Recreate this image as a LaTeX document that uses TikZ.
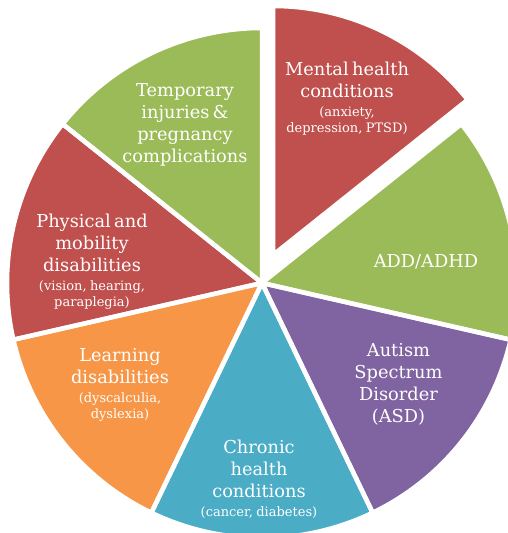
\documentclass[tikz,border=0pt]{standalone}
\usepackage{fontspec}
\setmainfont{DejaVu Serif}
\definecolor{pieRed}{HTML}{C0504D}
\definecolor{pieGreen}{HTML}{9BBB59}
\definecolor{piePurple}{HTML}{8064A2}
\definecolor{pieBlue}{HTML}{4BACC6}
\definecolor{pieOrange}{HTML}{F79646}
\newcommand\pieBig{\fontsize{17.8}{22}\selectfont}
\newcommand\pieSmall{\fontsize{13}{15.8}\selectfont}
\newcommand\pieGap{\par\vspace{3pt}}
\begin{document}
\begin{tikzpicture}[x=1pt,y=1pt,
  gap/.style={draw=white,line width=4.5pt,line join=round},
  pielabel/.style={text=white,align=center,text width=170pt,anchor=base,inner sep=0pt}]
\useasboundingbox (0,0) rectangle (507,533);
% centre of the pie and vertex of the pulled-out wedge
\coordinate (O) at (262,250);
\coordinate (M) at (273,278);
\def\R{255}
\def\Rm{249}
% seven equal wedges
\foreach \s/\e/\col in {-12.857/38.571/pieGreen, -64.286/-12.857/piePurple,
    -115.714/-64.286/pieBlue, -167.143/-115.714/pieOrange,
    141.429/192.857/pieRed, 90/141.429/pieGreen}
  \fill[\col] (O) -- ++(\s:\R) arc[start angle=\s,end angle=\e,radius=\R] -- cycle;
\fill[pieRed] (M) -- ++(38.571:\Rm) arc[start angle=38.571,end angle=90,radius=\Rm] -- cycle;
% white separators
\foreach \s/\e in {-12.857/38.571, -64.286/-12.857, -115.714/-64.286,
    -167.143/-115.714, 141.429/192.857, 90/141.429}
  \draw[gap] (O) -- ++(\s:\R) arc[start angle=\s,end angle=\e,radius=\R] -- cycle;
\draw[gap] (M) -- ++(38.571:\Rm) arc[start angle=38.571,end angle=90,radius=\Rm] -- cycle;
% labels
\node[pielabel] (mental) at (347,457)
  {\pieBig Mental health\\conditions\pieGap\pieSmall (anxiety,\\depression, PTSD)\par};
\node[pielabel] (adhd) at (426,265) {\pieBig ADD/ADHD\par};
\node[pielabel] (asd) at (398.5,176)
  {\pieBig Autism\\Spectrum\\Disorder\\(ASD)\par};
\node[pielabel] (chronic) at (259,79)
  {\pieBig Chronic\\health\\conditions\pieGap\pieSmall (cancer, diabetes)\par};
\node[pielabel] (learning) at (120,171)
  {\pieBig Learning\\disabilities\pieGap\pieSmall (dyscalculia,\\dyslexia)\par};
\node[pielabel] (physical) at (92,305)
  {\pieBig Physical and\\mobility\\disabilities\pieGap\pieSmall (vision, hearing,\\paraplegia)\par};
\node[pielabel] (temporary) at (185,436)
  {\pieBig Temporary\\injuries \&\\pregnancy\\complications\par};
\end{tikzpicture}
\end{document}
